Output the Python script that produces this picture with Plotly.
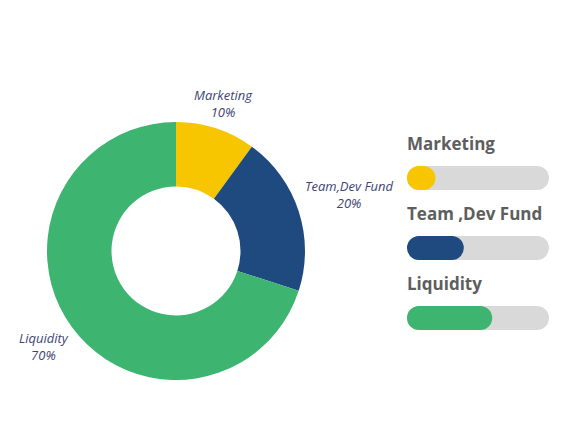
import math
import plotly.graph_objects as go

categories = ["Marketing", "Team,Dev Fund", "Liquidity"]
shares = [10, 20, 70]
bar_labels = ["Marketing", "Team ,Dev Fund", "Liquidity"]
bar_fill = [20, 40, 60]
bar_total = [100, 100, 100]

colors = ["#F7C600", "#1F4A80", "#3DB470"]
track_color = "#D9D9D9"

W, H = 577, 433
# pie geometry (pixels)
pcx, pcy, pr = 176, 251, 129
label_dist = [155, 182, 163]

fig = go.Figure()
fig.add_trace(go.Pie(
    labels=categories, values=shares, hole=0.5, sort=False,
    direction="clockwise", rotation=0,
    marker=dict(colors=colors, line=dict(width=0)),
    textinfo="none", hoverinfo="label+percent", showlegend=False,
    domain=dict(x=[(pcx - pr) / W, (pcx + pr) / W],
                y=[(H - pcy - pr) / H, (H - pcy + pr) / H]),
))

# slice labels placed at mid-angle of each slice
total = sum(shares)
cum = 0
for name, v, d in zip(categories, shares, label_dist):
    mid = (cum + v / 2) / total * 2 * math.pi
    cum += v
    px = pcx + d * math.sin(mid)
    py = pcy - d * math.cos(mid)
    fig.add_annotation(
        x=px / W, y=(H - py) / H, xref="paper", yref="paper",
        text=f"{name}<br>{round(v / total * 100)}%", showarrow=False,
        font=dict(family="Open Sans", size=13, color="#3E4470", style="italic"),
        xanchor="center", yanchor="middle", align="center",
    )

ypos = list(range(len(bar_labels)))

# progress-bar geometry
bx0, bx1 = 407, 549          # pixel extent of x axis
thick_px = 24                # bar thickness in px
row_px = 70                  # px per y unit


def rounded_bar(values, color):
    fig.add_trace(go.Bar(
        x=values, base=[0] * len(values), y=ypos, orientation="h",
        marker=dict(color=color, cornerradius="50%", line=dict(width=0)),
        width=thick_px / row_px, hoverinfo="skip", showlegend=False,
    ))


rounded_bar(bar_total, track_color)
rounded_bar(bar_fill, colors)

for i, lab in zip(ypos, bar_labels):
    fig.add_annotation(
        x=0, y=i - 0.5, xref="x", yref="y", text=f"<b>{lab}</b>", showarrow=False,
        xanchor="left", yanchor="middle", xshift=-2,
        font=dict(family="Open Sans", size=17, color="#5E5E5E"),
    )

fig.update_layout(
    width=W, height=H, margin=dict(l=0, r=0, t=0, b=0),
    paper_bgcolor="white", plot_bgcolor="white", barmode="overlay",
    xaxis=dict(domain=[bx0 / W, bx1 / W], range=[0, 100], visible=False, fixedrange=True),
    yaxis=dict(domain=[(H - 353) / H, (H - 143) / H], range=[2.5, -0.5], visible=False, fixedrange=True),
)

fig.write_html("out.html")
